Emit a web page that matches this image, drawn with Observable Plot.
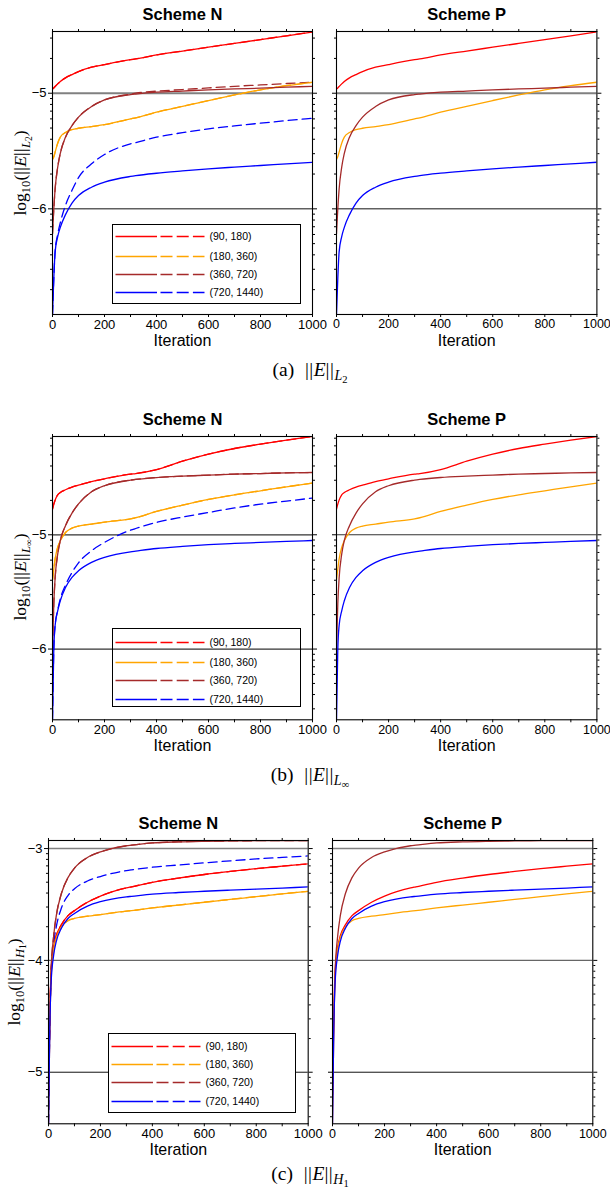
<!DOCTYPE html>
<html><head><meta charset="utf-8">
<script src="https://cdn.jsdelivr.net/npm/d3@7"></script>
<script src="https://cdn.jsdelivr.net/npm/@observablehq/plot@0.6"></script>
<style>
body{margin:0;background:#fff;}
#root{position:relative;width:610px;height:1195px;overflow:hidden;font-family:"Liberation Sans",Arial,sans-serif;background:#fff;}
.cap,.ylab{position:absolute;font-family:"Liberation Serif","DejaVu Serif",serif;white-space:nowrap;line-height:1;}
.cap{font-size:19.5px;transform:translate(-50%,-50%);}
.ylab{font-size:17.5px;transform:translate(-50%,-50%) rotate(-90deg);}
.cap sub,.ylab sub{font-size:72%;vertical-align:-0.32em;}
.cap sub sub,.ylab sub sub{font-size:75%;vertical-align:-0.25em;}
.nb{letter-spacing:0.5px;}
.gap{display:inline-block;width:0.55em;}
.legend{position:absolute;border:1px solid #000;box-sizing:border-box;}
.legend.opaque{background:#fff;}
</style></head><body><div id="root"></div><script>
// ---------- data ----------
const iterations = [0,5,10,20,30,50,75,100,150,200,300,320,400,500,600,700,800,900,1000];
const seriesNames = ["(90, 180)","(180, 360)","(360, 720)","(720, 1440)"];
const seriesColors = ["#ff0000","#ffa500","#a52a2a","#0000ff"];
const xMajor = [0,200,400,600,800,1000];
const xMinor = [100,300,500,700,900];
const panelTitles = ["Scheme N","Scheme P"];

// (a) log10 ||E||_L2
const l2Red = [-4.963,-4.954,-4.942,-4.919,-4.899,-4.867,-4.839,-4.813,-4.775,-4.752,-4.71,-4.703,-4.669,-4.635,-4.602,-4.569,-4.536,-4.503,-4.47];
const l2Orange = [-5.573,-5.55,-5.51,-5.432,-5.38,-5.34,-5.315,-5.303,-5.288,-5.272,-5.222,-5.213,-5.164,-5.113,-5.063,-5.015,-4.971,-4.935,-4.905];
const l2Brown = [-6.216,-6.0,-5.83,-5.64,-5.52,-5.38,-5.28,-5.207,-5.115,-5.058,-5.012,-5.007,-4.991,-4.981,-4.971,-4.963,-4.956,-4.948,-4.94];
const l2BrownDashed = [-6.216,-6.0,-5.83,-5.64,-5.52,-5.38,-5.28,-5.207,-5.115,-5.058,-5.008,-5.0,-4.982,-4.968,-4.954,-4.94,-4.928,-4.916,-4.905];
const l2Blue = [-6.914,-6.6,-6.375,-6.24,-6.16,-6.05,-5.95,-5.885,-5.813,-5.769,-5.72,-5.713,-5.692,-5.672,-5.654,-5.639,-5.625,-5.611,-5.597];
const l2BlueDashed = [-6.914,-6.6,-6.37,-6.22,-6.12,-5.97,-5.84,-5.73,-5.61,-5.53,-5.438,-5.427,-5.38,-5.341,-5.308,-5.282,-5.259,-5.237,-5.216];

// (b) log10 ||E||_Linf
const liRed = [-4.776,-4.732,-4.697,-4.65,-4.63,-4.606,-4.583,-4.566,-4.534,-4.51,-4.469,-4.464,-4.429,-4.356,-4.294,-4.245,-4.207,-4.172,-4.14];
const liOrange = [-5.394,-5.3,-5.213,-5.111,-5.052,-4.98,-4.942,-4.924,-4.907,-4.889,-4.86,-4.851,-4.796,-4.741,-4.691,-4.65,-4.615,-4.58,-4.548];
const liBrown = [-6.0,-5.606,-5.38,-5.17,-5.05,-4.92,-4.81,-4.73,-4.624,-4.571,-4.522,-4.516,-4.499,-4.487,-4.478,-4.469,-4.464,-4.458,-4.455];
const liBlue = [-6.618,-6.0,-5.796,-5.665,-5.577,-5.461,-5.373,-5.315,-5.242,-5.198,-5.149,-5.143,-5.12,-5.102,-5.087,-5.076,-5.067,-5.058,-5.05];
const liBlueDashed = [-6.618,-6.0,-5.796,-5.66,-5.56,-5.44,-5.33,-5.245,-5.14,-5.067,-4.96,-4.945,-4.892,-4.845,-4.805,-4.765,-4.732,-4.705,-4.679];

// (c) log10 ||E||_H1
const h1Red = [-5.2,-4.5,-4.1,-3.88,-3.78,-3.68,-3.6,-3.555,-3.48,-3.425,-3.352,-3.342,-3.302,-3.265,-3.232,-3.205,-3.18,-3.158,-3.137];
const h1Orange = [-5.0,-4.5,-4.15,-3.9,-3.8,-3.7,-3.645,-3.625,-3.605,-3.59,-3.56,-3.555,-3.531,-3.505,-3.48,-3.455,-3.43,-3.405,-3.382];
const h1Brown = [-5.46,-4.6,-4.1,-3.78,-3.6,-3.4,-3.26,-3.175,-3.08,-3.03,-2.975,-2.97,-2.95,-2.94,-2.935,-2.932,-2.93,-2.929,-2.928];
const h1Blue = [-5.46,-4.6,-4.2,-3.95,-3.83,-3.71,-3.625,-3.58,-3.515,-3.475,-3.432,-3.427,-3.407,-3.393,-3.382,-3.372,-3.363,-3.353,-3.343];
const h1BlueDashed = [-5.46,-4.55,-4.15,-3.85,-3.7,-3.53,-3.42,-3.36,-3.29,-3.25,-3.197,-3.19,-3.167,-3.147,-3.128,-3.11,-3.093,-3.079,-3.066];

const l2Solid = [l2Red,l2Orange,l2Brown,l2Blue], l2Dashed = [l2Red,l2Orange,l2BrownDashed,l2BlueDashed];
const liSolid = [liRed,liOrange,liBrown,liBlue], liDashed = [liRed,liOrange,liBrown,liBlueDashed];
const h1Solid = [h1Red,h1Orange,h1Brown,h1Blue], h1Dashed = [h1Red,h1Orange,h1Brown,h1BlueDashed];

// ---------- layout ----------
const NORM = '<span class="nb">||</span><i>E</i><span class="nb">||</span>';
const groups = [
  {solid:l2Solid, dashed:l2Dashed, yT:31, yB:314, dom:[-6.914,-4.466], xs:[[52.3,312.3],[336.3,596.7]],
   majors:[-6,-5], grid:[{v:-5,c:"#808080",w:2},{v:-6,c:"#111",w:1}],
   ylab:'log<sub>10</sub>('+NORM+'<sub><i>L</i><sub>2</sub></sub>)', ylabX:23,
   cap:'(a)<span class="gap"></span>'+NORM+'<sub><i>L</i><sub>2</sub></sub>', capY:373,
   legend:{x:111.5,y:223.5,w:189.5,h:80,rows:[12.5,32.5,50.5,68.5],opaque:true}},
  {solid:liSolid, dashed:liDashed, yT:435.7, yB:719, dom:[-6.619,-4.14], xs:[[52.3,312.3],[336.3,596.7]],
   majors:[-6,-5], grid:[{v:-5,c:"#333",w:1.2},{v:-6,c:"#333",w:1.2}],
   ylab:'log<sub>10</sub>('+NORM+'<sub><i>L</i><sub>∞</sub></sub>)', ylabX:23,
   cap:'(b)<span class="gap"></span>'+NORM+'<sub><i>L</i><sub>∞</sub></sub>', capY:778,
   legend:{x:111.5,y:627.5,w:189.5,h:79.5,rows:[14.5,34.5,52.5,71.5],opaque:false}},
  {solid:h1Solid, dashed:h1Dashed, yT:840, yB:1123.3, dom:[-5.461,-2.928], xs:[[48.3,308],[332,592.3]],
   majors:[-5,-4,-3], grid:[{v:-3,c:"#808080",w:1.6},{v:-4,c:"#666",w:1.4},{v:-5,c:"#111",w:1}],
   ylab:'log<sub>10</sub>('+NORM+'<sub><i>H</i><sub>1</sub></sub>)', ylabX:17,
   cap:'(c)<span class="gap"></span>'+NORM+'<sub><i>H</i><sub>1</sub></sub>', capY:1177,
   legend:{x:107.5,y:1032.5,w:188.5,h:80,rows:[13.5,31.5,49.5,68.5],opaque:true}}
];

const root = document.getElementById("root");
const rows = arr => iterations.map((it,i)=>({it, v: arr[i]}));
const fmtY = d => "\u2212" + Math.abs(d);
const blank = () => "";

function minorTicks(dom){
  const out=[];
  for(let n=Math.floor(dom[0])-1;n<=Math.ceil(dom[1]);n++)
    for(let k=2;k<=9;k++){const v=n+Math.log10(k); if(v>dom[0]&&v<dom[1]) out.push(v);}
  return out;
}

groups.forEach(g=>{
  const minors = minorTicks(g.dom);
  g.xs.forEach(([xL,xR],pi)=>{
    const mL=40,mR=12,mT=34,mB=40;
    const lineMarks=[];
    if(pi===0){
      g.dashed.forEach((arr,si)=>lineMarks.push(Plot.line(rows(arr),{x:"it",y:"v",stroke:seriesColors[si],strokeWidth:1.3,strokeDasharray:"9,5",curve:"monotone-x",clip:true})));
    }
    g.solid.forEach((arr,si)=>lineMarks.push(Plot.line(rows(arr),{x:"it",y:"v",stroke:seriesColors[si],strokeWidth:1.3,curve:"monotone-x",clip:true})));
    const chart = Plot.plot({
      width:(xR-xL)+mL+mR, height:(g.yB-g.yT)+mT+mB,
      marginLeft:mL, marginRight:mR, marginTop:mT, marginBottom:mB,
      x:{domain:[0,1000],axis:null}, y:{domain:g.dom,axis:null},
      style:{fontFamily:'"Liberation Sans",Arial,sans-serif',fontSize:"13px",background:"transparent",overflow:"visible",color:"#000"},
      marks:[
        ...g.grid.map(r=>Plot.ruleY([r.v],{stroke:r.c,strokeWidth:r.w})),
        ...lineMarks,
        Plot.frame({stroke:"#000",strokeWidth:1.1}),
        Plot.axisX(xMajor,{anchor:"bottom",tickSize:3,tickPadding:2,label:null,fontSize:pi===1?12.5:13,tickFormat:d=>String(d)}),
        Plot.axisX(xMinor,{anchor:"bottom",tickSize:3,label:null,tickFormat:blank}),
        Plot.axisX(xMajor.concat(xMinor),{anchor:"top",tickSize:3,label:null,tickFormat:blank}),
        Plot.axisY(g.majors,{anchor:"left",tickSize:4,tickPadding:2,label:null,fontSize:13,tickFormat:pi===0?fmtY:blank}),
        Plot.axisY(g.majors,{anchor:"right",tickSize:4,label:null,tickFormat:blank}),
        Plot.axisY(minors,{anchor:"left",tickSize:2,label:null,tickFormat:blank}),
        Plot.axisY(minors,{anchor:"right",tickSize:2,label:null,tickFormat:blank}),
        Plot.text([panelTitles[pi]],{text:d=>d,frameAnchor:"top",dy:-17,fontSize:16.5,fontWeight:"bold",lineAnchor:"middle"}),
        Plot.text(["Iteration"],{text:d=>d,frameAnchor:"bottom",dy:26,fontSize:16,lineAnchor:"middle"})
      ]
    });
    chart.style.position="absolute";
    chart.style.left=(xL-mL)+"px";
    chart.style.top=(g.yT-mT)+"px";
    root.appendChild(chart);
  });
  // y label
  const yl=document.createElement("div");
  yl.className="ylab"; yl.innerHTML=g.ylab;
  yl.style.left=g.ylabX+"px"; yl.style.top=((g.yT+g.yB)/2)+"px";
  root.appendChild(yl);
  // caption
  const cp=document.createElement("div");
  cp.className="cap"; cp.innerHTML=g.cap;
  cp.style.left="310px"; cp.style.top=g.capY+"px";
  root.appendChild(cp);
  // legend
  const L=g.legend;
  const lg=document.createElement("div");
  lg.className="legend"+(L.opaque?" opaque":"");
  lg.style.left=L.x+"px"; lg.style.top=L.y+"px"; lg.style.width=L.w+"px"; lg.style.height=L.h+"px";
  const ns="http://www.w3.org/2000/svg";
  const svg=document.createElementNS(ns,"svg");
  svg.setAttribute("width",L.w); svg.setAttribute("height",L.h);
  svg.style.position="absolute"; svg.style.left="-1px"; svg.style.top="-1px"; svg.style.overflow="visible";
  seriesNames.forEach((name,i)=>{
    const y=L.rows[i];
    const a=document.createElementNS(ns,"line");
    a.setAttribute("x1",3.5);a.setAttribute("x2",45);a.setAttribute("y1",y);a.setAttribute("y2",y);
    a.setAttribute("stroke",seriesColors[i]);a.setAttribute("stroke-width",1.4);
    const b=document.createElementNS(ns,"line");
    b.setAttribute("x1",48.5);b.setAttribute("x2",92.5);b.setAttribute("y1",y);b.setAttribute("y2",y);
    b.setAttribute("stroke",seriesColors[i]);b.setAttribute("stroke-width",1.4);b.setAttribute("stroke-dasharray","12,4.2");
    const t=document.createElementNS(ns,"text");
    t.setAttribute("x",97.5);t.setAttribute("y",y+3.8);
    t.setAttribute("font-size","10.5");t.setAttribute("font-family",'"Liberation Sans",Arial,sans-serif');
    t.textContent=name;
    svg.appendChild(a);svg.appendChild(b);svg.appendChild(t);
  });
  lg.appendChild(svg);
  root.appendChild(lg);
});
</script></body></html>
